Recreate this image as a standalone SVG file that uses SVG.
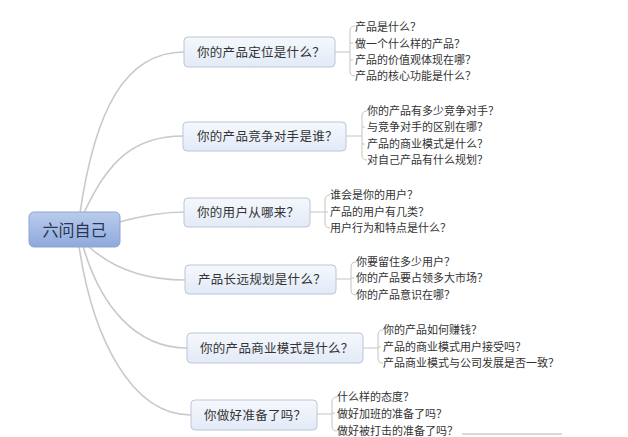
<svg xmlns="http://www.w3.org/2000/svg" width="628" height="437" viewBox="0 0 628 437">
<defs>
<linearGradient id="gRoot" x1="0" y1="0" x2="0" y2="1"><stop offset="0" stop-color="#b9cced"/><stop offset="1" stop-color="#8ea9dc"/></linearGradient>
<linearGradient id="gNode" x1="0" y1="0" x2="0" y2="1"><stop offset="0" stop-color="#f5f8fd"/><stop offset="1" stop-color="#e2eaf7"/></linearGradient>
<style>
.root{fill:url(#gRoot);stroke:#8ea5cf;stroke-width:1}
.node{fill:url(#gNode);stroke:#bcc6d6;stroke-width:1}
.rt{font-family:"Noto Sans CJK SC","Noto Sans",sans-serif;font-size:16px;fill:#2a3550}
.nt{font-family:"Noto Sans CJK SC","Noto Sans",sans-serif;font-size:12.5px;fill:#333;letter-spacing:0.3px}
.st{font-family:"Noto Sans CJK SC","Noto Sans",sans-serif;font-size:11px;fill:#333}
.ln{fill:none;stroke:#c9c9c9;stroke-width:1.6}
.br{fill:none;stroke:#c4c4c4;stroke-width:1}
</style>
</defs>
<rect width="628" height="437" fill="#fff"/>
<g id="connectors">
<path class="ln" d="M80,213 C95,110 125,52 184,52"/>
<path class="ln" d="M84,213 C108,160 135,136 183,136"/>
<path class="ln" d="M119,222 C145,215 165,212 184,212"/>
<path class="ln" d="M88,246 C112,268 145,280 185,280"/>
<path class="ln" d="M83,246 C100,305 135,348 187,348"/>
<path class="ln" d="M79,246 C92,335 130,415 191,415"/>
<path class="br" d="M335,52 H350 M355,26 Q350,26 350,31 V71 Q350,76 355,76 M350,43 H353 M350,60 H353"/>
<path class="br" d="M346,136 H362 M367,111 Q362,111 362,116 V155 Q362,160 367,160 M362,127 H365 M362,144 H365"/>
<path class="br" d="M310,212 H325 M330,195 Q325,195 325,200 V223 Q325,228 330,228 M325,212 H328"/>
<path class="br" d="M336,279 H351 M356,262 Q351,262 351,267 V290 Q351,295 356,295 M351,278 H354"/>
<path class="br" d="M363,348 H378 M383,330 Q378,330 378,335 V358 Q378,363 383,363 M378,347 H381"/>
<path class="br" d="M317,414 H332 M337,397 Q332,397 332,402 V426 Q332,431 337,431 M332,413 H335"/>
</g>
<g id="root"><rect class="root" x="29" y="212" width="91" height="35" rx="5"/><text class="rt" x="74.5" y="235.5" text-anchor="middle">六问自己</text></g>
<g id="n1"><rect class="node" x="184" y="37" width="151" height="30" rx="4"/><text class="nt" x="197" y="57">你的产品定位是什么？</text></g>
<g id="n1c"><text class="st" x="355" y="31">产品是什么？</text><text class="st" x="355" y="48">做一个什么样的产品？</text><text class="st" x="355" y="64">产品的价值观体现在哪？</text><text class="st" x="355" y="80">产品的核心功能是什么？</text></g>
<g id="n2"><rect class="node" x="183" y="122" width="163" height="29" rx="4"/><text class="nt" x="197" y="141">你的产品竞争对手是谁？</text></g>
<g id="n2c"><text class="st" x="367" y="115">你的产品有多少竞争对手？</text><text class="st" x="367" y="131">与竞争对手的区别在哪？</text><text class="st" x="367" y="148">产品的商业模式是什么？</text><text class="st" x="367" y="164">对自己产品有什么规划？</text></g>
<g id="n3"><rect class="node" x="184" y="198" width="126" height="29" rx="4"/><text class="nt" x="197" y="217">你的用户从哪来？</text></g>
<g id="n3c"><text class="st" x="330" y="199">谁会是你的用户？</text><text class="st" x="330" y="216">产品的用户有几类？</text><text class="st" x="330" y="232">用户行为和特点是什么？</text></g>
<g id="n4"><rect class="node" x="185" y="265" width="151" height="29" rx="4"/><text class="nt" x="198" y="284">产品长远规划是什么？</text></g>
<g id="n4c"><text class="st" x="356" y="266">你要留住多少用户？</text><text class="st" x="356" y="282">你的产品要占领多大市场？</text><text class="st" x="356" y="299">你的产品意识在哪？</text></g>
<g id="n5"><rect class="node" x="187" y="333" width="176" height="30" rx="4"/><text class="nt" x="200" y="353">你的产品商业模式是什么？</text></g>
<g id="n5c"><text class="st" x="383" y="334">你的产品如何赚钱？</text><text class="st" x="383" y="351">产品的商业模式用户接受吗？</text><text class="st" x="383" y="367">产品商业模式与公司发展是否一致？</text></g>
<g id="n6"><rect class="node" x="191" y="400" width="126" height="30" rx="4"/><text class="nt" x="204" y="420">你做好准备了吗？</text></g>
<g id="n6c"><text class="st" x="337" y="401">什么样的态度？</text><text class="st" x="337" y="418">做好加班的准备了吗？</text><text class="st" x="337" y="435">做好被打击的准备了吗？</text></g>
<path d="M462,434 H562" stroke="#cfcfcf" stroke-width="2" fill="none" opacity="0.8"/>
</svg>
